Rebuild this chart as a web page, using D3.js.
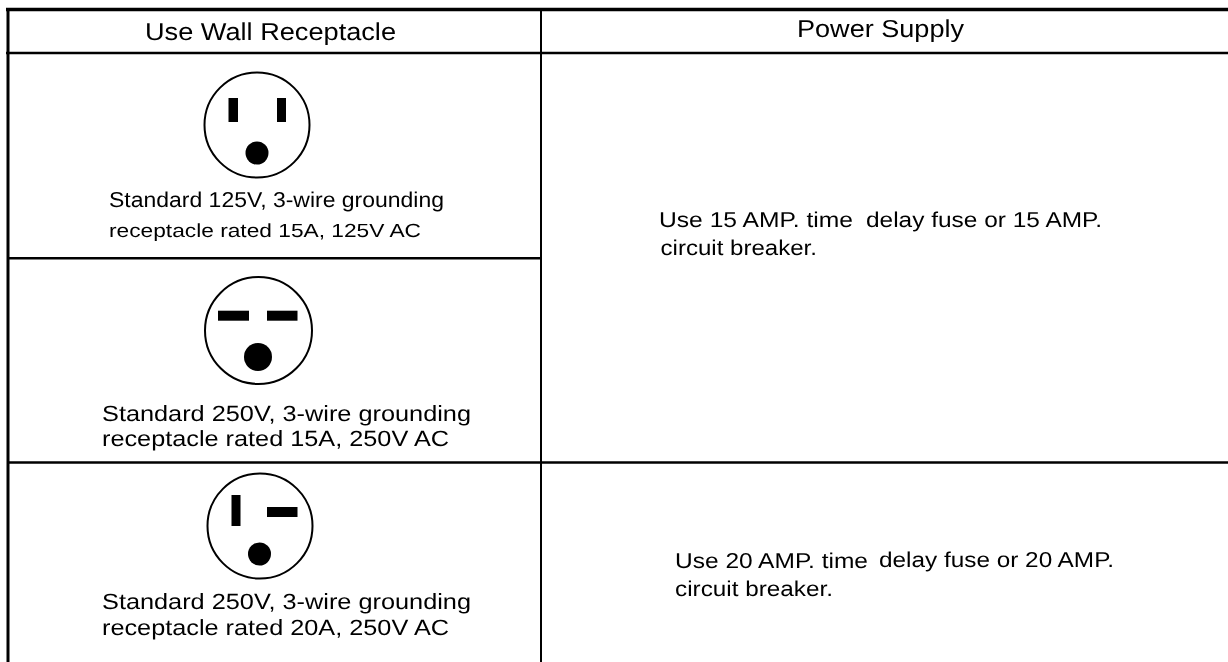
<!DOCTYPE html>
<html>
<head>
<meta charset="utf-8">
<script src="https://cdn.jsdelivr.net/npm/d3@7"></script>
<style>
html, body { margin: 0; padding: 0; background: #fff; }
svg { display: block; }
text { font-family: "Liberation Sans", Arial, sans-serif; fill: #000; text-rendering: geometricPrecision; }
</style>
</head>
<body>
<div class="wrapper"></div>
<script>
const headers = ['Use Wall Receptacle', 'Power Supply'];

const receptacleLabels = [
	'Standard 125V, 3-wire grounding',
	'receptacle rated 15A, 125V AC',
	'Standard 250V, 3-wire grounding',
	'receptacle rated 15A, 250V AC',
	'Standard 250V, 3-wire grounding',
	'receptacle rated 20A, 250V AC'
];

const supplyNotes = [
	'Use 15 AMP. time',
	'delay fuse or 15 AMP.',
	'circuit breaker.',
	'Use 20 AMP. time',
	'delay fuse or 20 AMP.',
	'circuit breaker.'
];

const width = 1228;
const height = 662;

const svg = d3.select('.wrapper').append('svg')
.attr('width', width)
.attr('height', height);

svg.append('defs').append('filter')
.attr('id', 'soft')
.attr('filterUnits', 'userSpaceOnUse')
.attr('x', 0).attr('y', 0).attr('width', width).attr('height', height)
.append('feGaussianBlur')
.attr('stdDeviation', 0.5);

const root = svg.append('g').attr('filter', 'url(#soft)');

// grid
const rules = [
	{x1: 6, y1: 9.5, x2: 1228, y2: 9.5, w: 3.5},
	{x1: 6, y1: 53, x2: 1228, y2: 53, w: 2.5},
	{x1: 8, y1: 258.3, x2: 541, y2: 258.3, w: 2.5},
	{x1: 8, y1: 462.5, x2: 1228, y2: 462.5, w: 2.5},
	{x1: 8, y1: 8, x2: 8, y2: 662, w: 3},
	{x1: 541, y1: 9, x2: 541, y2: 662, w: 2}
];

root.selectAll('line.rule')
.data(rules)
.enter()
.append('line')
.attr('class', 'rule')
.attr('x1', d => d.x1).attr('y1', d => d.y1)
.attr('x2', d => d.x2).attr('y2', d => d.y2)
.attr('stroke', '#000')
.attr('stroke-width', d => d.w);

// text is stretched to the widths
const drawText = (cls, labels, pos) => {

	root.selectAll('text.' + cls)
	.data(labels)
	.enter()
	.append('text')
	.attr('class', cls)
	.attr('x', (d, i) => pos[i].x)
	.attr('y', (d, i) => pos[i].y)
	.attr('textLength', (d, i) => pos[i].len)
	.attr('lengthAdjust', 'spacingAndGlyphs')
	.style('font-size', (d, i) => pos[i].size + 'px')
	.text(d => d);
}

drawText('header', headers, [
	{x: 145, y: 40, len: 251, size: 24.5},
	{x: 797, y: 37, len: 167, size: 24.5}
]);

drawText('label', receptacleLabels, [
	{x: 109, y: 207, len: 335, size: 21.5},
	{x: 109, y: 236.5, len: 312, size: 19},
	{x: 102, y: 420.7, len: 369, size: 22},
	{x: 102, y: 446, len: 347, size: 22},
	{x: 102, y: 609, len: 369, size: 22},
	{x: 102, y: 635, len: 347, size: 22}
]);

drawText('note', supplyNotes, [
	{x: 659, y: 227.3, len: 194, size: 21.5},
	{x: 866, y: 226.7, len: 236, size: 21.5},
	{x: 660.5, y: 255, len: 156.5, size: 21.5},
	{x: 675, y: 568, len: 193, size: 21.5},
	{x: 879, y: 566.7, len: 235, size: 21.5},
	{x: 675, y: 596, len: 158, size: 21.5}
]);

// receptacles
const faces = [
	{cx: 257, cy: 125, r: 52.5, gx: 257, gy: 153, gr: 11.5},
	{cx: 258.5, cy: 330.5, r: 53.5, gx: 258, gy: 357, gr: 14},
	{cx: 260, cy: 526, r: 52.5, gx: 259.5, gy: 554, gr: 11.5}
];

const slots = [
	{x: 228.5, y: 98, w: 9.5, h: 24},
	{x: 277, y: 98, w: 9, h: 24},
	{x: 218, y: 310.7, w: 31, h: 10},
	{x: 267, y: 310.7, w: 30.5, h: 10},
	{x: 231.5, y: 495, w: 9, h: 31},
	{x: 267, y: 507, w: 30.5, h: 10}
];

root.selectAll('circle.face')
.data(faces)
.enter()
.append('circle')
.attr('class', 'face')
.attr('cx', d => d.cx).attr('cy', d => d.cy).attr('r', d => d.r)
.attr('fill', 'none')
.attr('stroke', '#000')
.attr('stroke-width', 2);

root.selectAll('circle.ground')
.data(faces)
.enter()
.append('circle')
.attr('class', 'ground')
.attr('cx', d => d.gx).attr('cy', d => d.gy).attr('r', d => d.gr)
.attr('fill', '#000');

root.selectAll('rect.slot')
.data(slots)
.enter()
.append('rect')
.attr('class', 'slot')
.attr('x', d => d.x).attr('y', d => d.y)
.attr('width', d => d.w).attr('height', d => d.h)
.attr('fill', '#000');
</script>
</body>
</html>
